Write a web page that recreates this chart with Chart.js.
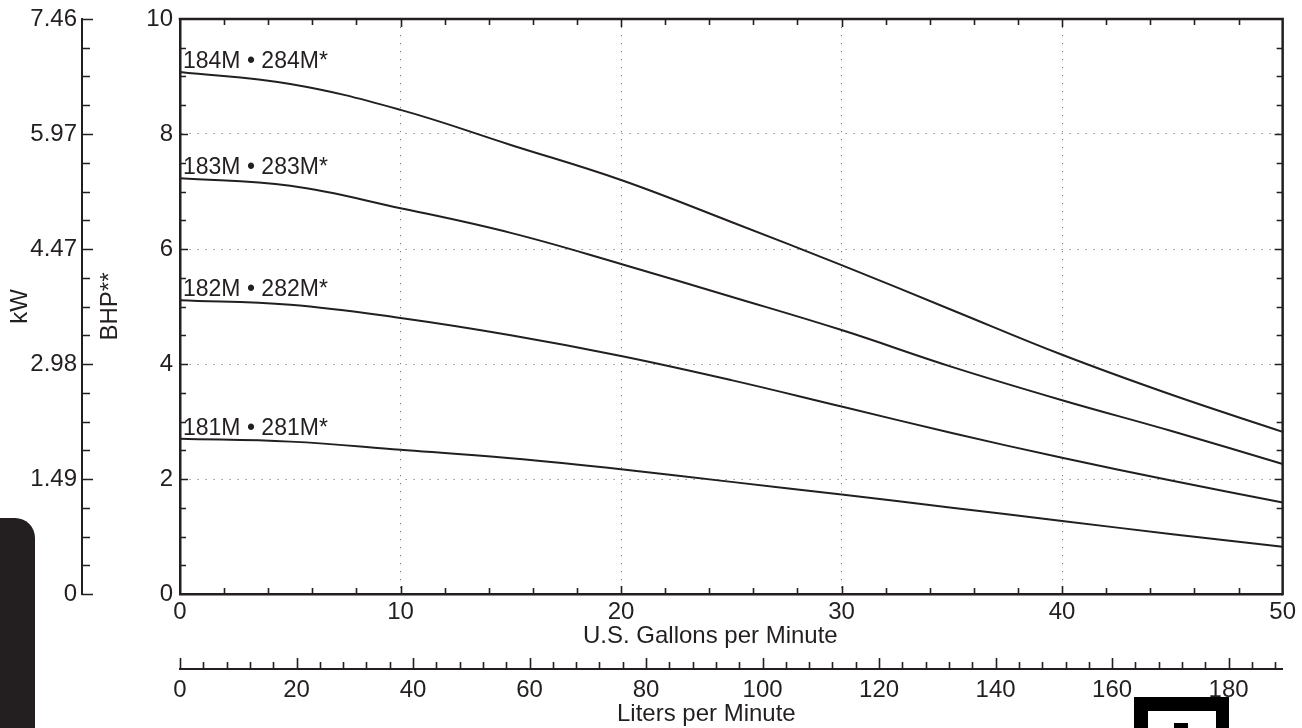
<!DOCTYPE html>
<html><head><meta charset="utf-8">
<script src="https://cdn.jsdelivr.net/npm/chart.js@4.4.1/dist/chart.umd.min.js"></script>
<style>html,body{margin:0;padding:0;background:#fff;overflow:hidden}canvas{display:block}</style>
</head><body><canvas id="c" width="1302" height="728"></canvas>
<script>
// ---- data ----
const gpm = [0, 5, 10, 15, 20, 25, 30, 35, 40, 45, 50];
const bhp184 = [9.08, 8.87, 8.42, 7.81, 7.20, 6.47, 5.72, 4.94, 4.16, 3.46, 2.82];
const bhp183 = [7.23, 7.10, 6.71, 6.28, 5.74, 5.17, 4.59, 3.95, 3.37, 2.83, 2.26];
const bhp182 = [5.11, 5.03, 4.80, 4.50, 4.14, 3.72, 3.26, 2.80, 2.37, 1.97, 1.59];
const bhp181 = [2.70, 2.65, 2.51, 2.36, 2.17, 1.95, 1.73, 1.50, 1.27, 1.04, 0.82];
const seriesLabels = ['184M • 284M*', '183M • 283M*', '182M • 282M*', '181M • 281M*'];
const bhpTicks = [0, 2, 4, 6, 8, 10];
const kwTickLabels = ['0', '1.49', '2.98', '4.47', '5.97', '7.46'];
const gpmTicks = [0, 10, 20, 30, 40, 50];
const lpmTicks = [0, 20, 40, 60, 80, 100, 120, 140, 160, 180];
const gpmTitle = 'U.S. Gallons per Minute';
const lpmTitle = 'Liters per Minute';
const LPM_PER_GPM = 3.78541;

const INK = '#231f20';
const FONT = "'Liberation Sans', Arial, Helvetica, sans-serif";
const tickFont = { family: FONT, size: 24, lineHeight: 1 };
const titleFont = { family: FONT, size: 24, lineHeight: 1 };

const series = [bhp184, bhp183, bhp182, bhp181];
const datasets = series.map((s, k) => ({
  label: seriesLabels[k],
  data: gpm.map((g, i) => ({ x: g, y: s[i] })),
  borderColor: INK, borderWidth: 2, pointRadius: 0,
  tension: 0.4, fill: false,
  xAxisID: 'x', yAxisID: 'y'
}));

const hideEnds = (lo, hi) => ctx => (ctx.tick && (ctx.tick.value === lo || ctx.tick.value === hi)) ? 'rgba(0,0,0,0)' : '#777';

const decor = {
  id: 'decor',
  afterDraw(chart) {
    const { ctx, chartArea: a, scales } = chart;
    const X = scales.x, Y = scales.y, XL = scales.xL, YK = scales.yKW;
    ctx.save();
    ctx.strokeStyle = INK; ctx.fillStyle = INK;
    // top and right frame
    ctx.lineWidth = 2.5;
    ctx.beginPath(); ctx.moveTo(a.left - 1.25, a.top); ctx.lineTo(a.right, a.top); ctx.lineTo(a.right, a.bottom + 1.25); ctx.stroke();
    // inward ticks on plot frame
    ctx.lineWidth = 1.6;
    ctx.beginPath();
    for (let v = 2; v < 50; v += 2) {
      const px = Math.round(X.getPixelForValue(v)) + 0.5;
      const len = (v % 10 === 0) ? 8 : 6;
      ctx.moveTo(px, a.bottom); ctx.lineTo(px, a.bottom - len);
      ctx.moveTo(px, a.top); ctx.lineTo(px, a.top + len);
    }
    for (let v = 0.5; v < 10; v += 0.5) {
      const py = Math.round(Y.getPixelForValue(v)) + 0.5;
      const len = (v % 2 === 0) ? 8 : 6;
      ctx.moveTo(a.left, py); ctx.lineTo(a.left + len, py);
      ctx.moveTo(a.right, py); ctx.lineTo(a.right - len, py);
    }
    ctx.stroke();
    // kW axis ticks (pointing right)
    const kx = YK.right;
    ctx.beginPath();
    for (let v = 0; v <= 10; v += 0.5) {
      const py = Math.round(YK.getPixelForValue(v)) + 0.5;
      const len = (v % 2 === 0) ? 11 : 8;
      ctx.moveTo(kx, py); ctx.lineTo(kx + len, py);
    }
    ctx.stroke();
    // liters axis ticks (pointing up)
    const ly = XL.top;
    ctx.beginPath();
    for (let v = 0; v <= XL.max; v += 4) {
      const px = Math.round(XL.getPixelForValue(v)) + 0.5;
      const len = (v % 20 === 0) ? 11 : 7;
      ctx.moveTo(px, ly); ctx.lineTo(px, ly - len);
    }
    ctx.stroke();
    // axis titles under the two horizontal axes
    ctx.font = '24px ' + FONT;
    ctx.textAlign = 'center'; ctx.textBaseline = 'middle';
    const cx = (a.left + a.right) / 2 - 21;
    ctx.fillText(gpmTitle, cx, X.top + 42);
    ctx.fillText(lpmTitle, cx - 4, XL.bottom - 14);
    // series labels
    ctx.font = '23px ' + FONT;
    ctx.textAlign = 'left'; ctx.textBaseline = 'alphabetic';
    chart.data.datasets.forEach((ds, i) => {
      const p = chart.getDatasetMeta(i).data[0];
      ctx.fillText(ds.label, p.x + 3, p.y - 4);
    });
    // page decorations: left tab and bottom-right logo
    ctx.beginPath();
    ctx.moveTo(0, 518); ctx.lineTo(15, 518); ctx.arcTo(35, 518, 35, 538, 20); ctx.lineTo(35, 728); ctx.lineTo(0, 728); ctx.closePath();
    ctx.fill();
    ctx.fillStyle = '#000';
    ctx.fillRect(1134, 697, 95, 31);
    ctx.fillStyle = '#fff';
    ctx.fillRect(1148, 711, 68, 17);
    ctx.fillStyle = '#000';
    ctx.fillRect(1174, 723, 14, 5);
    ctx.restore();
  }
};

new Chart(document.getElementById('c'), {
  type: 'line',
  data: { datasets },
  options: {
    responsive: false, animation: false,
    layout: { padding: { top: 19, right: 19, left: 0, bottom: 0 } },
    plugins: { legend: { display: false }, tooltip: { enabled: false } },
    scales: {
      x: {
        type: 'linear', position: 'bottom', weight: 0, min: 0, max: 50,
        afterBuildTicks: s => { s.ticks = gpmTicks.map(v => ({ value: v })); },
        ticks: { font: tickFont, color: INK, padding: 6, maxRotation: 0, autoSkip: false },
        grid: { drawTicks: false, color: hideEnds(0, 50), lineWidth: 1 },
        border: { display: true, color: INK, width: 2.5, dash: [1.2, 6.8] },
        title: { display: false, text: gpmTitle },
        afterFit: s => { s.height = 75; }
      },
      xL: {
        type: 'linear', position: 'bottom', weight: 1, min: 0, max: 50 * LPM_PER_GPM,
        afterBuildTicks: s => { s.ticks = lpmTicks.map(v => ({ value: v })); },
        ticks: { font: tickFont, color: INK, padding: 9, maxRotation: 0, autoSkip: false },
        grid: { drawOnChartArea: false, drawTicks: false },
        border: { display: true, color: INK, width: 2 },
        title: { display: false, text: lpmTitle },
        afterFit: s => { s.height = 59; }
      },
      y: {
        type: 'linear', position: 'left', weight: 0, min: 0, max: 10,
        afterBuildTicks: s => { s.ticks = bhpTicks.map(v => ({ value: v })); },
        ticks: { font: tickFont, color: INK, padding: 7 },
        grid: { drawTicks: false, color: hideEnds(0, 10), lineWidth: 1 },
        border: { display: true, color: INK, width: 2.5, dash: [1.2, 6.8] },
        title: { display: true, text: 'BHP**', font: titleFont, color: INK, padding: { top: 16, bottom: 0 } },
        afterFit: s => { s.width = 98; }
      },
      yKW: {
        type: 'linear', position: 'left', weight: 1, min: 0, max: 10,
        afterBuildTicks: s => { s.ticks = bhpTicks.map(v => ({ value: v })); },
        ticks: { font: tickFont, color: INK, padding: 5, callback: v => kwTickLabels[bhpTicks.indexOf(v)] },
        grid: { drawOnChartArea: false, drawTicks: false },
        border: { display: true, color: INK, width: 2 },
        title: { display: true, text: 'kW', font: titleFont, color: INK, padding: { top: 8, bottom: 0 } },
        afterFit: s => { s.width = 82; }
      }
    }
  },
  plugins: [decor]
});
</script>
</body></html>
